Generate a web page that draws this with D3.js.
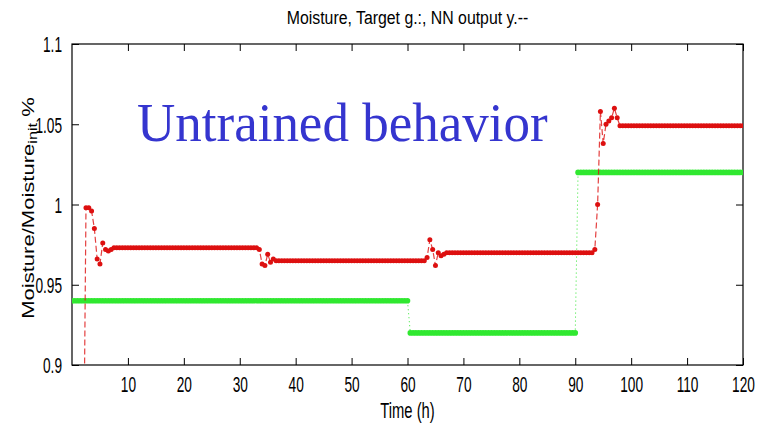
<!DOCTYPE html>
<html><head><meta charset="utf-8">
<script src="https://cdn.jsdelivr.net/npm/d3@7"></script>
<style>html,body{margin:0;padding:0;background:#fff;}svg{display:block;}</style>
</head><body>
<svg id="chart" width="762" height="425"></svg>
<script>
// ---- data ----
const xTicks = [10,20,30,40,50,60,70,80,90,100,110,120];
const yTicks = [0.9,0.95,1,1.05,1.1];
const sampleStep = 0.5;           // hours between samples
const targetStart = 0;            // first target sample (h)
const outputStart = 2;            // first NN output sample (h)
// Target (green), one value per 0.5 h from 0 to 120 h
const targetValues = [
0.94,0.94,0.94,0.94,0.94,0.94,0.94,0.94,0.94,0.94,0.94,0.94,0.94,0.94,0.94,0.94,0.94,0.94,0.94,0.94,
0.94,0.94,0.94,0.94,0.94,0.94,0.94,0.94,0.94,0.94,0.94,0.94,0.94,0.94,0.94,0.94,0.94,0.94,0.94,0.94,
0.94,0.94,0.94,0.94,0.94,0.94,0.94,0.94,0.94,0.94,0.94,0.94,0.94,0.94,0.94,0.94,0.94,0.94,0.94,0.94,
0.94,0.94,0.94,0.94,0.94,0.94,0.94,0.94,0.94,0.94,0.94,0.94,0.94,0.94,0.94,0.94,0.94,0.94,0.94,0.94,
0.94,0.94,0.94,0.94,0.94,0.94,0.94,0.94,0.94,0.94,0.94,0.94,0.94,0.94,0.94,0.94,0.94,0.94,0.94,0.94,
0.94,0.94,0.94,0.94,0.94,0.94,0.94,0.94,0.94,0.94,0.94,0.94,0.94,0.94,0.94,0.94,0.94,0.94,0.94,0.94,
0.94,
0.92,0.92,0.92,0.92,0.92,0.92,0.92,0.92,0.92,0.92,0.92,0.92,0.92,0.92,0.92,0.92,0.92,0.92,0.92,0.92,
0.92,0.92,0.92,0.92,0.92,0.92,0.92,0.92,0.92,0.92,0.92,0.92,0.92,0.92,0.92,0.92,0.92,0.92,0.92,0.92,
0.92,0.92,0.92,0.92,0.92,0.92,0.92,0.92,0.92,0.92,0.92,0.92,0.92,0.92,0.92,0.92,0.92,0.92,0.92,0.92,
1.02,1.02,1.02,1.02,1.02,1.02,1.02,1.02,1.02,1.02,1.02,1.02,1.02,1.02,1.02,1.02,1.02,1.02,1.02,1.02,
1.02,1.02,1.02,1.02,1.02,1.02,1.02,1.02,1.02,1.02,1.02,1.02,1.02,1.02,1.02,1.02,1.02,1.02,1.02,1.02,
1.02,1.02,1.02,1.02,1.02,1.02,1.02,1.02,1.02,1.02,1.02,1.02,1.02,1.02,1.02,1.02,1.02,1.02,1.02,1.02
];
// NN output (red), one value per 0.5 h from 2 to 120 h
const outputValues = [
0.80,0.998,0.998,0.996,0.985,0.966,0.963,0.976,0.972,0.971,0.972,
0.973,0.973,0.973,0.973,0.973,0.973,0.973,0.973,0.973,0.973,0.973,0.973,0.973,
0.973,0.973,0.973,0.973,0.973,0.973,0.973,0.973,0.973,0.973,0.973,0.973,0.973,
0.973,0.973,0.973,0.973,0.973,0.973,0.973,0.973,0.973,0.973,0.973,0.973,0.973,
0.973,0.973,0.973,0.973,0.973,0.973,0.973,0.973,0.973,0.973,0.973,0.973,0.973,
0.972,0.963,0.962,0.969,0.964,0.966,0.965,
0.965,0.965,0.965,0.965,0.965,0.965,0.965,0.965,0.965,0.965,0.965,0.965,0.965,
0.965,0.965,0.965,0.965,0.965,0.965,0.965,0.965,0.965,0.965,0.965,0.965,0.965,
0.965,0.965,0.965,0.965,0.965,0.965,0.965,0.965,0.965,0.965,0.965,0.965,0.965,
0.965,0.965,0.965,0.965,0.965,0.965,0.965,0.965,0.965,0.965,0.965,0.965,0.965,
0.965,
0.967,0.978,0.972,0.962,0.970,0.968,0.969,0.970,
0.970,0.970,0.970,0.970,0.970,0.970,0.970,0.970,0.970,0.970,0.970,0.970,0.970,
0.970,0.970,0.970,0.970,0.970,0.970,0.970,0.970,0.970,0.970,0.970,0.970,0.970,
0.970,0.970,0.970,0.970,0.970,0.970,0.970,0.970,0.970,0.970,0.970,0.970,0.970,
0.970,0.970,0.970,0.970,0.970,0.970,0.970,0.970,0.970,0.970,0.970,0.970,0.970,
0.972,1.000,1.058,1.038,1.050,1.052,1.054,1.060,1.054,1.049,
1.049,1.049,1.049,1.049,1.049,1.049,1.049,1.049,1.049,1.049,1.049,
1.049,1.049,1.049,1.049,1.049,1.049,1.049,1.049,1.049,1.049,1.049,
1.049,1.049,1.049,1.049,1.049,1.049,1.049,1.049,1.049,1.049,1.049,
1.049,1.049,1.049,1.049,1.049,1.049,1.049,1.049,1.049,1.049,1.049
];
const titleText = "Moisture, Target g.:, NN output y.--";
const xLabel = "Time (h)";
const annotation = "Untrained behavior";

// ---- layout ----
const L = 72, R = 743, T = 44, B = 365;
const svg = d3.select("#chart");
const x = d3.scaleLinear().domain([0,120]).range([L,R]);
const y = d3.scaleLinear().domain([0.9,1.1]).range([B,T]);
const target = targetValues.map((v,i)=>({t: targetStart + i*sampleStep, v}));
const output = outputValues.map((v,i)=>({t: outputStart + i*sampleStep, v}));

svg.append("defs").append("clipPath").attr("id","plotclip")
  .append("rect").attr("x",L).attr("y",T).attr("width",R-L).attr("height",B-T);

const font = "Liberation Sans, Arial, sans-serif";
const fmt = d => String(+d.toFixed(2));
// glyphs in the reference are narrow and tall
const SX = 0.76, SY = 1.22;
const squish = (ax, ay, sx, sy) => `translate(${ax},${ay}) scale(${sx},${sy}) translate(${-ax},${-ay})`;

// axes
const tickLen = 7;
const gx = svg.append("g").attr("transform",`translate(0,${B})`)
  .call(d3.axisBottom(x).tickValues(xTicks).tickSize(-tickLen).tickFormat(fmt));
const gxt = svg.append("g").attr("transform",`translate(0,${T})`)
  .call(d3.axisTop(x).tickValues(xTicks).tickSize(-tickLen).tickFormat(""));
const gy = svg.append("g").attr("transform",`translate(${L},0)`)
  .call(d3.axisLeft(y).tickValues(yTicks).tickSize(-tickLen).tickFormat(fmt));
const gyr = svg.append("g").attr("transform",`translate(${R},0)`)
  .call(d3.axisRight(y).tickValues(yTicks).tickSize(-tickLen).tickFormat(""));
[gx,gxt,gy,gyr].forEach(g=>{
  g.select(".domain").remove();
  g.selectAll("line").attr("stroke","#000").attr("stroke-width",1);
  g.selectAll("text").attr("font-family",font).attr("font-size",18).attr("fill","#000");
});
gx.selectAll(".tick text").attr("y",27).attr("dy",null)
  .attr("transform",squish(0,27,SX,SY));
gy.selectAll(".tick text").attr("x",-10).attr("dy","0.36em")
  .attr("transform",squish(-10,0,SX,SY));
svg.append("rect").attr("x",L).attr("y",T).attr("width",R-L).attr("height",B-T)
  .attr("fill","none").attr("stroke","#000").attr("stroke-width",1.2);

// series
const plot = svg.append("g").attr("clip-path","url(#plotclip)");
const line = d3.line().x(d=>x(d.t)).y(d=>y(d.v));
const green = "#30e830", red = "#dd1010";
plot.append("path").datum(target).attr("d",line).attr("fill","none")
  .attr("stroke",green).attr("stroke-width",1).attr("stroke-dasharray","1,3");
plot.append("g").selectAll("circle").data(target).join("circle")
  .attr("cx",d=>x(d.t)).attr("cy",d=>y(d.v)).attr("r",2.8).attr("fill",green);
plot.append("path").datum(output).attr("d",line).attr("fill","none")
  .attr("stroke",red).attr("stroke-width",1.2).attr("stroke-dasharray","6,3").attr("opacity",0.8);
plot.append("g").selectAll("circle").data(output).join("circle")
  .attr("cx",d=>x(d.t)).attr("cy",d=>y(d.v)).attr("r",2.5).attr("fill",red);

// texts
const tx = (L+R)/2;
svg.append("text").attr("x",tx).attr("y",24).attr("text-anchor","middle")
  .attr("font-family",font).attr("font-size",16).attr("transform",squish(tx,24,0.99,1.2)).text(titleText);
svg.append("text").attr("x",tx).attr("y",418).attr("text-anchor","middle")
  .attr("font-family",font).attr("font-size",18).attr("transform",squish(tx,418,0.82,1.2)).text(xLabel);
const yl = svg.append("text").attr("transform",`translate(34,208) rotate(-90) scale(1.16,0.85)`)
  .attr("text-anchor","middle").attr("font-family",font).attr("font-size",19);
yl.append("tspan").text("Moisture/Moisture");
yl.append("tspan").attr("font-size",14).attr("dy",4).text("init");
yl.append("tspan").attr("dy",-4).text(" %");
svg.append("text").attr("x",137).attr("y",141).attr("font-family","Liberation Serif, Times New Roman, serif")
  .attr("font-size",53).attr("fill","#3535cf").attr("transform",squish(137,141,1,1.04)).text(annotation);
</script>
</body></html>
